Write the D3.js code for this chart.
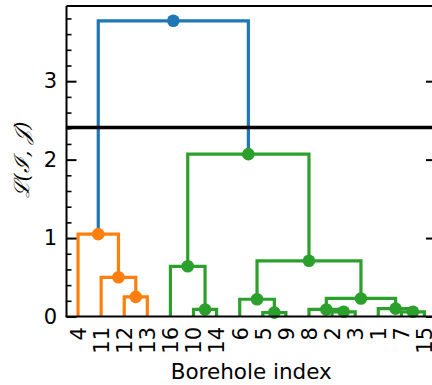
<!DOCTYPE html>
<html><head><meta charset="utf-8">
<script src="https://cdn.jsdelivr.net/npm/d3@7"></script>
<style>body{margin:0;background:#fff}svg{display:block}</style>
</head><body>
<svg id="c" width="432" height="385"></svg>
<script>
// ---- data ----
const leafLabels = ["4","11","12","13","16","10","14","6","5","9","8","2","3","1","7","15"];
// merges: node ids 0..15 are leaves, 16.. are merged clusters in order
const mergeLeft   = [2, 1, 0, 5, 4, 8, 7, 11, 10, 14, 13, 24, 22, 20, 18];
const mergeRight  = [3, 16, 17, 6, 19, 9, 21, 12, 23, 15, 25, 26, 27, 28, 29];
const mergeHeight = [0.25, 0.50, 1.05, 0.09, 0.64, 0.05, 0.22, 0.06, 0.09, 0.06, 0.10, 0.23, 0.71, 2.07, 3.77];
const mergeColor  = ["C1","C1","C1","C2","C2","C2","C2","C2","C2","C2","C2","C2","C2","C2","C0"];
const yTicks = [0, 1, 2, 3];
const threshold = 2.41;
const palette = {C0:"#1f77b4", C1:"#ff7f0e", C2:"#2ca02c"};

// ---- layout ----
const svg = d3.select("#c");
const x0 = 66.5, x1 = 436, yBot = 316.5, yTop = 6;
const x = d3.scaleLinear().domain([0, leafLabels.length * 10]).range([x0, x1]);
const yMax = d3.max(mergeHeight) * 1.05;
const y = d3.scaleLinear().domain([0, yMax]).range([yBot, yTop]);

// node positions
const nodes = leafLabels.map((l, i) => ({pos: 10 * i + 5, h: 0}));
mergeLeft.forEach((l, k) => {
  const a = nodes[l], b = nodes[mergeRight[k]];
  nodes.push({pos: (a.pos + b.pos) / 2, h: mergeHeight[k], a, b, c: palette[mergeColor[k]]});
});
const merges = nodes.slice(leafLabels.length);

const font = "DejaVu Sans, sans-serif";

// links
svg.append("g").selectAll("path").data(merges).join("path")
  .attr("d", d => `M${x(d.a.pos)},${y(d.a.h)}V${y(d.h)}H${x(d.b.pos)}V${y(d.b.h)}`)
  .attr("fill", "none").attr("stroke", d => d.c).attr("stroke-width", 3.2);
// dots
svg.append("g").selectAll("circle").data(merges).join("circle")
  .attr("cx", d => x(d.pos)).attr("cy", d => y(d.h)).attr("r", 6.3)
  .attr("fill", d => d.c);

// threshold line
svg.append("line").attr("x1", x0).attr("x2", x1)
  .attr("y1", y(threshold)).attr("y2", y(threshold))
  .attr("stroke", "#000").attr("stroke-width", 3.5);

// spines
const sp = svg.append("g").attr("stroke", "#000").attr("fill", "none");
sp.append("line").attr("x1", x0).attr("x2", x1).attr("y1", yTop).attr("y2", yTop).attr("stroke-width", 1.8);
sp.append("line").attr("x1", x0 - 1).attr("x2", x1).attr("y1", yBot).attr("y2", yBot).attr("stroke-width", 2);
sp.append("line").attr("x1", x0).attr("x2", x0).attr("y1", yTop).attr("y2", yBot).attr("stroke-width", 2);
sp.append("line").attr("x1", x1).attr("x2", x1).attr("y1", yTop).attr("y2", yBot).attr("stroke-width", 2);

// y axis (major + minor)
const minor = d3.range(0, yMax, 0.2).filter(v => Math.abs(v - Math.round(v)) > 1e-6);
const gy = svg.append("g").attr("transform", `translate(${x0},0)`)
  .call(d3.axisLeft(y).tickValues(yTicks).tickSize(-10).tickPadding(9.5).tickFormat(d3.format("d")));
gy.select(".domain").remove();
gy.selectAll(".tick line").attr("stroke-width", 2);
gy.selectAll("text").attr("font-family", font).attr("font-size", 21).attr("fill", "#000");
const gym = svg.append("g").attr("transform", `translate(${x0},0)`)
  .call(d3.axisLeft(y).tickValues(minor).tickSize(-5).tickFormat(""));
gym.select(".domain").remove();
gym.selectAll(".tick line").attr("stroke-width", 1.6);
const gyr = svg.append("g").attr("transform", `translate(${x1},0)`)
  .call(d3.axisRight(y).tickValues(yTicks).tickSize(-10).tickFormat(""));
gyr.select(".domain").remove();
gyr.selectAll(".tick line").attr("stroke-width", 2);

// x axis
const gx = svg.append("g").attr("transform", `translate(0,${yBot})`)
  .call(d3.axisBottom(x).tickValues(leafLabels.map((l, i) => 10 * i + 5)).tickSize(0)
    .tickFormat((d, i) => leafLabels[i]));
gx.select(".domain").remove();
gx.selectAll("text").attr("font-family", font).attr("font-size", 21).attr("fill", "#000")
  .attr("transform", "rotate(-90)").attr("text-anchor", "end")
  .attr("x", -10.5).attr("y", 0).attr("dy", "0.35em");

// axis labels
svg.append("text").attr("x", (x0 + x1) / 2).attr("y", 378.5).attr("text-anchor", "middle")
  .attr("font-family", font).attr("font-size", 21.5).text("Borehole index");
svg.append("text").attr("transform", "translate(29,160) rotate(-90)").attr("text-anchor", "middle")
  .attr("font-family", "DejaVu Serif, serif").attr("font-style", "italic").attr("font-size", 21)
  .text("ℒ(ℐ, 𝒥)");
</script>
</body></html>
